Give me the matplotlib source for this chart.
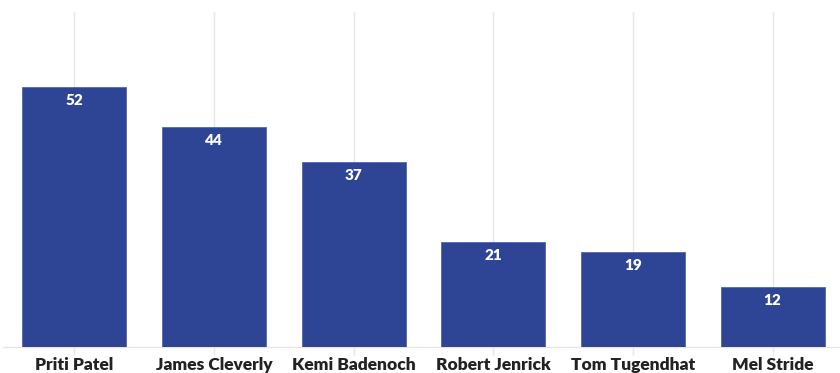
import matplotlib
matplotlib.use("Agg")
import matplotlib.pyplot as plt

names = ["Priti Patel", "James Cleverly", "Kemi Badenoch", "Robert Jenrick", "Tom Tugendhat", "Mel Stride"]
values = [52, 44, 37, 21, 19, 12]

plt.rcParams['font.family'] = ['Lato', 'DejaVu Sans']

fig = plt.figure(figsize=(8.4, 3.73), dpi=100)
ax = fig.add_axes([3/840, 1 - 347/373, 838/840, (347 - 12)/373])

x = list(range(len(names)))
bars = ax.bar(x, values, width=0.745, color="#2E4494", edgecolor="#5566AA", linewidth=0.6, zorder=3)

for xi, v in zip(x, values):
    ax.annotate(str(v), (xi, v), xytext=(0, -5), textcoords="offset points",
                ha="center", va="top", color="white", fontsize=11, fontweight="heavy", zorder=4)

ax.set_xlim(-0.51, 5.49)
ax.set_ylim(0, 67)
ax.set_xticks(x)
ax.set_xticklabels(names, fontsize=12.5, fontweight="heavy", color="#222222")
ax.tick_params(axis="x", length=6, color="#E6E6E6", width=1, pad=1.5)
ax.set_yticks([])
ax.grid(axis="x", color="#E6E6E6", linewidth=1, zorder=0)
for s in ["top", "right", "left"]:
    ax.spines[s].set_visible(False)
ax.spines["bottom"].set_color("#E6E6E6")
ax.spines["bottom"].set_linewidth(1)

fig.savefig("out.png", dpi=100)
